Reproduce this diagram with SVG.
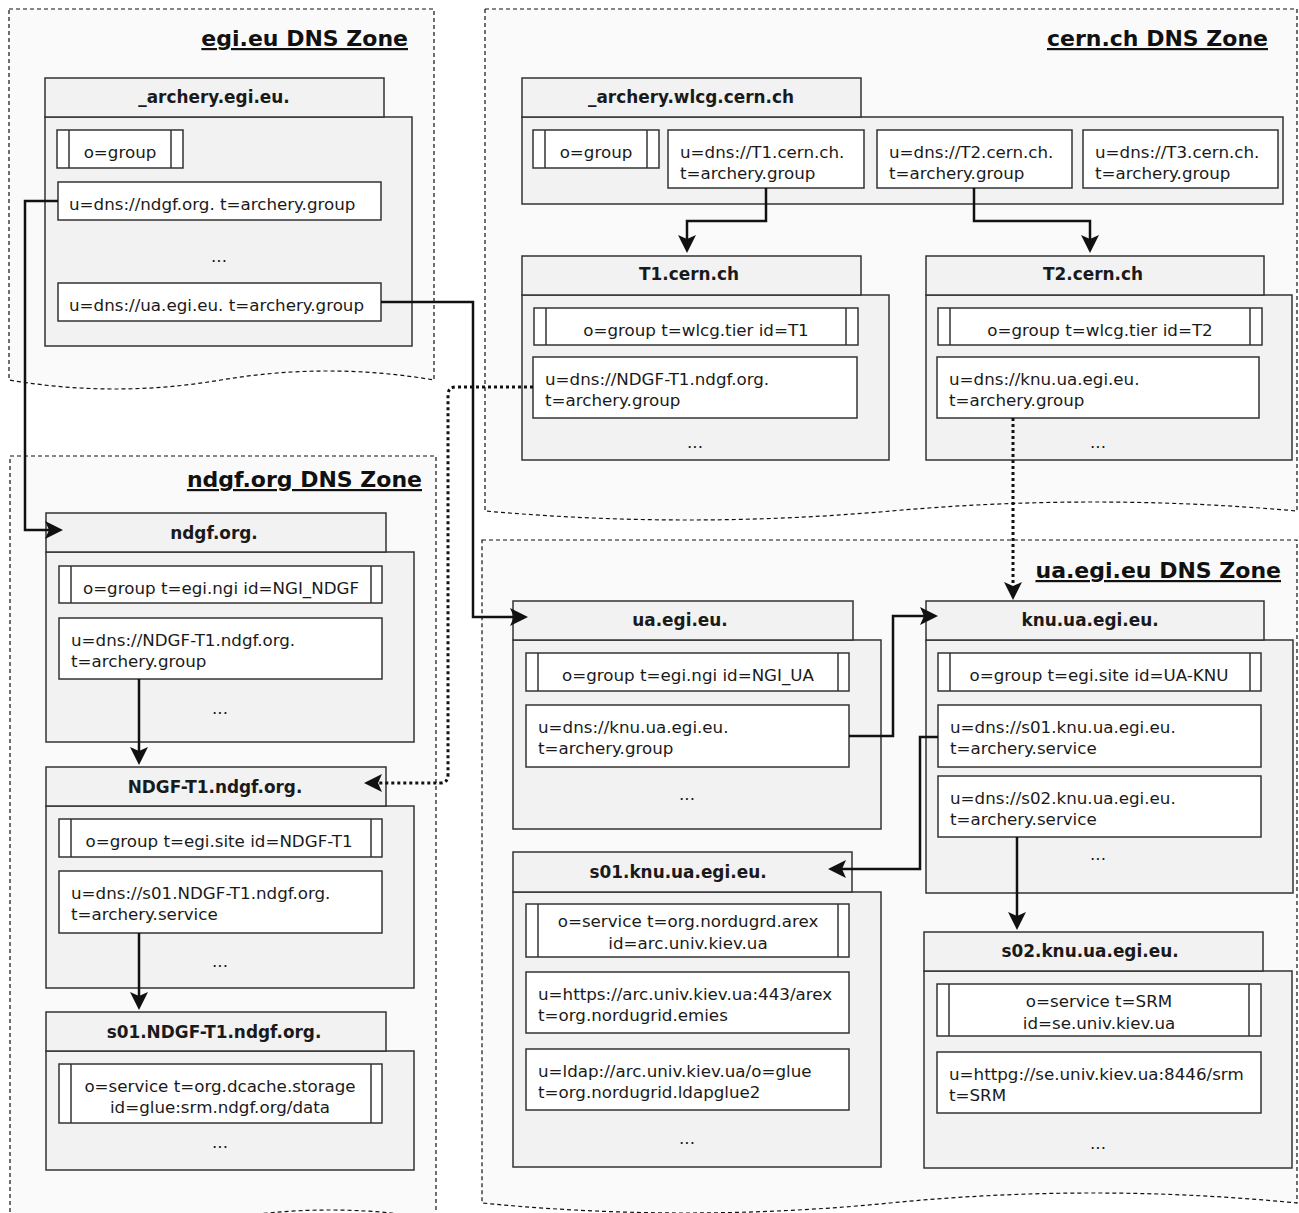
<svg xmlns="http://www.w3.org/2000/svg" width="1299" height="1213" viewBox="0 0 1299 1213">
<style>
.zone{fill:#fafafa;stroke:#111;stroke-width:1.2;stroke-dasharray:4 3}
.zt{font:bold 22px "DejaVu Sans",sans-serif;text-anchor:end;text-decoration:underline;fill:#111}
.box{fill:#f2f2f2;stroke:#333;stroke-width:1.5}
.ht{font:bold 16.9px "DejaVu Sans",sans-serif;text-anchor:middle;fill:#1a1a1a}
.it{fill:#fff;stroke:#333;stroke-width:1.5}
.bar{stroke:#333;stroke-width:1.5}
.t{font:16.7px "DejaVu Sans",sans-serif;fill:#1a1a1a}
.tm{font:16.7px "DejaVu Sans",sans-serif;fill:#1a1a1a;text-anchor:middle}
.c{fill:none;stroke:#111;stroke-width:2.5;marker-end:url(#ah)}
.d{fill:none;stroke:#111;stroke-width:3;stroke-dasharray:3 3;marker-end:url(#ah)}
</style>
<defs>
<marker id="ah" markerUnits="userSpaceOnUse" viewBox="-20 -10 22 20" markerWidth="22" markerHeight="20" refX="-6" refY="0" orient="auto">
<path d="M0,0 L-18,-9 L-14,0 L-18,9 Z" fill="#111" stroke="none"/>
</marker>
</defs>
<rect width="1299" height="1213" fill="#fff"/>
<g id="zones">
<g id="zone-egi">
<path class="zone" d="M9,9 H434 V380 Q328,362 221,380 Q115,398 9,380 Z"/>
<text class="zt" x="408" y="46">egi.eu DNS Zone</text>
</g>
<g id="zone-cern">
<path class="zone" d="M485,9 H1297 V511 Q1094,493 891,511 Q688,529 485,511 Z"/>
<text class="zt" x="1268" y="46">cern.ch DNS Zone</text>
</g>
<g id="zone-ndgf">
<path class="zone" d="M10,456 H436 V1219 Q330,1201 223,1219 Q117,1237 10,1219 Z"/>
<text class="zt" x="422" y="487">ndgf.org DNS Zone</text>
</g>
<g id="zone-ua">
<path class="zone" d="M482,540 H1297 V1203 Q1093,1183 890,1203 Q686,1223 482,1203 Z"/>
<text class="zt" x="1281" y="578">ua.egi.eu DNS Zone</text>
</g>
</g>

<g id="n-archery-egi">
<rect class="box" x="45" y="117" width="367" height="229"/>
<rect class="box" x="45" y="78" width="339" height="39"/>
<text class="ht" x="214" y="103">_archery.egi.eu.</text>
<rect class="it" x="57" y="130" width="126" height="38"/>
<line class="bar" x1="69" y1="130" x2="69" y2="168"/><line class="bar" x1="171" y1="130" x2="171" y2="168"/>
<text class="tm" x="120" y="158">o=group</text>
<rect class="it" x="58" y="182" width="323" height="38"/>
<text class="t" x="69" y="210">u=dns://ndgf.org. t=archery.group</text>
<text class="tm" x="219" y="262">...</text>
<rect class="it" x="58" y="283" width="323" height="38"/>
<text class="t" x="69" y="311">u=dns://ua.egi.eu. t=archery.group</text>
</g>

<g id="n-archery-cern">
<rect class="box" x="522" y="117" width="761" height="87"/>
<rect class="box" x="522" y="78" width="339" height="39"/>
<text class="ht" x="691" y="103">_archery.wlcg.cern.ch</text>
<rect class="it" x="533" y="130" width="126" height="38"/>
<line class="bar" x1="545" y1="130" x2="545" y2="168"/><line class="bar" x1="647" y1="130" x2="647" y2="168"/>
<text class="tm" x="596" y="158">o=group</text>
<rect class="it" x="668" y="130" width="196" height="58"/>
<text class="t" x="680" y="158">u=dns://T1.cern.ch.</text>
<text class="t" x="680" y="179">t=archery.group</text>
<rect class="it" x="877" y="130" width="195" height="58"/>
<text class="t" x="889" y="158">u=dns://T2.cern.ch.</text>
<text class="t" x="889" y="179">t=archery.group</text>
<rect class="it" x="1083" y="130" width="195" height="58"/>
<text class="t" x="1095" y="158">u=dns://T3.cern.ch.</text>
<text class="t" x="1095" y="179">t=archery.group</text>
</g>

<g id="n-t1-cern">
<rect class="box" x="522" y="295" width="367" height="165"/>
<rect class="box" x="522" y="256" width="339" height="39"/>
<text class="ht" x="689" y="280">T1.cern.ch</text>
<rect class="it" x="534" y="308" width="324" height="37"/>
<line class="bar" x1="546" y1="308" x2="546" y2="345"/><line class="bar" x1="846" y1="308" x2="846" y2="345"/>
<text class="tm" x="696" y="336">o=group t=wlcg.tier id=T1</text>
<rect class="it" x="533" y="357" width="324" height="61"/>
<text class="t" x="545" y="385">u=dns://NDGF-T1.ndgf.org.</text>
<text class="t" x="545" y="406">t=archery.group</text>
<text class="tm" x="695" y="448">...</text>
</g>

<g id="n-t2-cern">
<rect class="box" x="926" y="295" width="366" height="165"/>
<rect class="box" x="926" y="256" width="338" height="39"/>
<text class="ht" x="1093" y="280">T2.cern.ch</text>
<rect class="it" x="938" y="308" width="324" height="37"/>
<line class="bar" x1="950" y1="308" x2="950" y2="345"/><line class="bar" x1="1250" y1="308" x2="1250" y2="345"/>
<text class="tm" x="1100" y="336">o=group t=wlcg.tier id=T2</text>
<rect class="it" x="937" y="357" width="322" height="61"/>
<text class="t" x="949" y="385">u=dns://knu.ua.egi.eu.</text>
<text class="t" x="949" y="406">t=archery.group</text>
<text class="tm" x="1098" y="448">...</text>
</g>

<g id="n-ndgf">
<rect class="box" x="46" y="552" width="368" height="190"/>
<rect class="box" x="46" y="513" width="340" height="39"/>
<text class="ht" x="214" y="539">ndgf.org.</text>
<rect class="it" x="59" y="566" width="323" height="37"/>
<line class="bar" x1="71" y1="566" x2="71" y2="603"/><line class="bar" x1="371" y1="566" x2="371" y2="603"/>
<text class="tm" x="221" y="594">o=group t=egi.ngi id=NGI_NDGF</text>
<rect class="it" x="59" y="618" width="323" height="61"/>
<text class="t" x="71" y="646">u=dns://NDGF-T1.ndgf.org.</text>
<text class="t" x="71" y="667">t=archery.group</text>
<text class="tm" x="220" y="714">...</text>
</g>

<g id="n-ndgf-t1">
<rect class="box" x="46" y="806" width="368" height="182"/>
<rect class="box" x="46" y="767" width="340" height="39"/>
<text class="ht" x="215" y="793">NDGF-T1.ndgf.org.</text>
<rect class="it" x="59" y="819" width="323" height="38"/>
<line class="bar" x1="71" y1="819" x2="71" y2="857"/><line class="bar" x1="371" y1="819" x2="371" y2="857"/>
<text class="tm" x="219" y="847">o=group t=egi.site id=NDGF-T1</text>
<rect class="it" x="59" y="871" width="323" height="62"/>
<text class="t" x="71" y="899">u=dns://s01.NDGF-T1.ndgf.org.</text>
<text class="t" x="71" y="920">t=archery.service</text>
<text class="tm" x="220" y="967">...</text>
</g>

<g id="n-s01-ndgf-t1">
<rect class="box" x="46" y="1051" width="368" height="119"/>
<rect class="box" x="46" y="1012" width="340" height="39"/>
<text class="ht" x="214" y="1038">s01.NDGF-T1.ndgf.org.</text>
<rect class="it" x="59" y="1064" width="323" height="59"/>
<line class="bar" x1="71" y1="1064" x2="71" y2="1123"/><line class="bar" x1="371" y1="1064" x2="371" y2="1123"/>
<text class="tm" x="220" y="1092">o=service t=org.dcache.storage</text>
<text class="tm" x="220" y="1113">id=glue:srm.ndgf.org/data</text>
<text class="tm" x="220" y="1148">...</text>
</g>

<g id="n-ua">
<rect class="box" x="513" y="640" width="368" height="189"/>
<rect class="box" x="513" y="601" width="340" height="39"/>
<text class="ht" x="680" y="626">ua.egi.eu.</text>
<rect class="it" x="526" y="653" width="323" height="38"/>
<line class="bar" x1="538" y1="653" x2="538" y2="691"/><line class="bar" x1="838" y1="653" x2="838" y2="691"/>
<text class="tm" x="688" y="681">o=group t=egi.ngi id=NGI_UA</text>
<rect class="it" x="526" y="705" width="323" height="62"/>
<text class="t" x="538" y="733">u=dns://knu.ua.egi.eu.</text>
<text class="t" x="538" y="754">t=archery.group</text>
<text class="tm" x="687" y="800">...</text>
</g>

<g id="n-knu">
<rect class="box" x="926" y="640" width="367" height="253"/>
<rect class="box" x="926" y="601" width="338" height="39"/>
<text class="ht" x="1090" y="626">knu.ua.egi.eu.</text>
<rect class="it" x="938" y="653" width="323" height="38"/>
<line class="bar" x1="950" y1="653" x2="950" y2="691"/><line class="bar" x1="1250" y1="653" x2="1250" y2="691"/>
<text class="tm" x="1099" y="681">o=group t=egi.site id=UA-KNU</text>
<rect class="it" x="938" y="705" width="323" height="62"/>
<text class="t" x="950" y="733">u=dns://s01.knu.ua.egi.eu.</text>
<text class="t" x="950" y="754">t=archery.service</text>
<rect class="it" x="938" y="776" width="323" height="61"/>
<text class="t" x="950" y="804">u=dns://s02.knu.ua.egi.eu.</text>
<text class="t" x="950" y="825">t=archery.service</text>
<text class="tm" x="1098" y="860">...</text>
</g>

<g id="n-s01-knu">
<rect class="box" x="513" y="892" width="368" height="275"/>
<rect class="box" x="513" y="852" width="339" height="40"/>
<text class="ht" x="678" y="878">s01.knu.ua.egi.eu.</text>
<rect class="it" x="526" y="904" width="323" height="53"/>
<line class="bar" x1="538" y1="904" x2="538" y2="957"/><line class="bar" x1="838" y1="904" x2="838" y2="957"/>
<text class="tm" x="688" y="927">o=service t=org.nordugrd.arex</text>
<text class="tm" x="688" y="949">id=arc.univ.kiev.ua</text>
<rect class="it" x="526" y="972" width="323" height="61"/>
<text class="t" x="538" y="1000">u=https://arc.univ.kiev.ua:443/arex</text>
<text class="t" x="538" y="1021">t=org.nordugrid.emies</text>
<rect class="it" x="526" y="1049" width="323" height="61"/>
<text class="t" x="538" y="1077">u=ldap://arc.univ.kiev.ua/o=glue</text>
<text class="t" x="538" y="1098">t=org.nordugrid.ldapglue2</text>
<text class="tm" x="687" y="1144">...</text>
</g>

<g id="n-s02-knu">
<rect class="box" x="924" y="971" width="368" height="197"/>
<rect class="box" x="924" y="932" width="339" height="39"/>
<text class="ht" x="1090" y="957">s02.knu.ua.egi.eu.</text>
<rect class="it" x="937" y="984" width="324" height="52"/>
<line class="bar" x1="949" y1="984" x2="949" y2="1036"/><line class="bar" x1="1249" y1="984" x2="1249" y2="1036"/>
<text class="tm" x="1099" y="1007">o=service t=SRM</text>
<text class="tm" x="1099" y="1029">id=se.univ.kiev.ua</text>
<rect class="it" x="937" y="1052" width="324" height="61"/>
<text class="t" x="949" y="1080">u=httpg://se.univ.kiev.ua:8446/srm</text>
<text class="t" x="949" y="1101">t=SRM</text>
<text class="tm" x="1098" y="1149">...</text>
</g>

<g id="connectors">
<path class="c" d="M58,201 H25 V530 H57"/>
<path class="c" d="M381,302 H473 V617 H522"/>
<path class="c" d="M766,188 V221 H687 V247"/>
<path class="c" d="M974,188 V221 H1090 V247"/>
<path class="c" d="M139,679 V759"/>
<path class="c" d="M139,933 V1004"/>
<path class="c" d="M849,736 H893 V616 H932"/>
<path class="c" d="M938,737 H920 V869 H834"/>
<path class="c" d="M1017,837 V924"/>
<path class="d" d="M533,387 H456 Q448,387 448,395 V775 Q448,783 440,783 H370"/>
<path class="d" d="M1013,418 V594"/>
</g>
</svg>
